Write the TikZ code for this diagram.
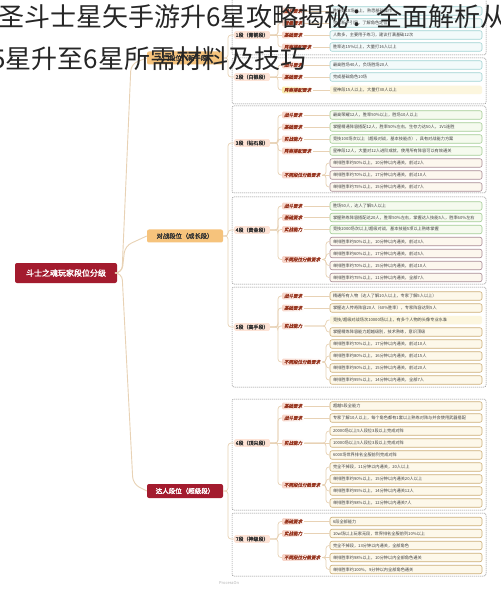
\documentclass[tikz,border=0pt]{standalone}
\usepackage{fontspec}
\setmainfont{Noto Sans CJK SC}
\newfontfamily\boldcjk[FakeBold=2]{Noto Sans CJK SC}
\newfontfamily\catcjk[FakeBold=1.2,FakeSlant=0.2]{Noto Sans CJK SC}
\usepackage{tikz}
\usetikzlibrary{calc}
\usetikzlibrary{positioning}
\definecolor{rootred}{RGB}{163,27,46}
\definecolor{duizhan}{RGB}{246,195,124}
\definecolor{linktan}{RGB}{232,210,181}
\definecolor{framegray}{RGB}{140,140,140}
\definecolor{labelpink}{RGB}{253,227,214}
\definecolor{catred}{RGB}{150,52,30}
\definecolor{catpink}{RGB}{247,212,200}
\definecolor{catyellow}{RGB}{250,236,170}
\definecolor{rowteal}{RGB}{160,211,211}
\definecolor{rowtealfill}{RGB}{243,250,250}
\definecolor{rowgreen}{RGB}{165,205,150}
\definecolor{rowgreenfill}{RGB}{245,250,238}
\definecolor{rowmauve}{RGB}{170,140,150}
\definecolor{rowcream}{RGB}{252,247,238}
\definecolor{rowtan}{RGB}{205,175,120}
\definecolor{rowtanfill}{RGB}{253,248,234}
\definecolor{yellowfill}{RGB}{252,246,222}

\begin{document}
\begin{tikzpicture}[x=1pt, y=-1pt,
	rootbox/.style={fill=rootred, text=white, font=\boldcjk\fontsize{8}{9}\selectfont, minimum width=102pt, minimum height=20pt, rounded corners=2pt, inner sep=0pt},
	orangebox/.style={fill=duizhan, text=black!80, font=\boldcjk\fontsize{6.3}{7}\selectfont, minimum width=76pt, minimum height=13pt, rounded corners=2pt, inner sep=0pt},
	redbox/.style={fill=rootred, text=white, font=\boldcjk\fontsize{6.5}{7}\selectfont, minimum width=76pt, minimum height=14pt, rounded corners=2pt, inner sep=0pt},
	grouplabel/.style={fill=labelpink, text=black!80, font=\boldcjk\fontsize{5}{6}\selectfont, rounded corners=1.5pt, inner xsep=1.5pt, inner ysep=1.5pt, anchor=west},
	catlabel/.style={left color=catpink, right color=white, text=catred, font=\catcjk\fontsize{4.5}{5}\selectfont, rounded corners=1pt, inner xsep=2pt, inner ysep=1.2pt, anchor=west},
	catbright/.style={left color=catyellow, right color=white, text=catred, font=\catcjk\fontsize{4.5}{5}\selectfont, rounded corners=1pt, inner xsep=2pt, inner ysep=1.2pt, anchor=west},
	rowbase/.style={line width=0.6pt, rounded corners=2pt, text width=146pt, align=left, inner xsep=3pt, inner ysep=0pt, minimum height=8.5pt, text=black!75, font=\fontsize{4.2}{5}\selectfont},
	tealrow/.style={rowbase, draw=rowteal, fill=rowtealfill},
	greenrow/.style={rowbase, draw=rowgreen, fill=rowgreenfill},
	mauverow/.style={rowbase, draw=rowmauve, fill=rowcream},
	tanrow/.style={rowbase, draw=rowtan, fill=rowtanfill},
	plainrow/.style={rowbase, fill=yellowfill},
	link/.style={draw=linktan, line width=0.7pt, rounded corners=3pt},
	trunk/.style={draw=linktan, line width=0.9pt, rounded corners=7pt},
	groupframe/.style={draw=framegray, dash pattern=on 1.2pt off 0.8pt, line width=0.5pt, rounded corners=2pt},
	titletext/.style={font=\fontsize{26}{30}\selectfont, text=black!85, inner sep=0pt, anchor=base west}]

	\useasboundingbox (0,0) rectangle (500,593);
	\fill[white] (0,0) rectangle (500,593);

	\pgfmathsetmacro{\rowx}{406}
	\pgfmathsetmacro{\catx}{282}
	\pgfmathsetmacro{\labx}{234}
	\pgfmathsetmacro{\fork}{326}
	\pgfmathsetmacro{\split}{278}

	\draw[groupframe] (232,-6) rectangle (486,55);
	\draw[groupframe] (232,58) rectangle (486,104);
	\draw[groupframe] (232,106) rectangle (486,193);
	\draw[groupframe] (232,197) rectangle (486,284);
	\draw[groupframe] (232,287) rectangle (486,387);
	\draw[groupframe] (232,399) rectangle (486,510);
	\draw[groupframe] (232,513) rectangle (486,576);

	\node[rootbox] (root) at (66,273) {斗士之魂玩家段位分级};
	\node[orangebox] (rumen) at (185,58) {入门段位（新手段）};
	\node[orangebox] (duizhan) at (185,236) {对战段位（成长段）};
	\node[redbox] (daren) at (185,491) {达人段位（超级段）};

	\node[grouplabel] (g1) at (\labx,35) {1段（青铜段）};
	\node[catlabel] (c1a) at (\catx,11) {战斗要求};
	\node[catlabel] (c1b) at (\catx,23) {晋级要求};
	\node[catlabel] (c1c) at (\catx,35) {基础要求};
	\node[catlabel] (c1d) at (\catx,47) {阵容搭配要求};
	\node[tealrow] (r1a) at (\rowx,11) {胜场数10场以上，熟悉基础操作};
	\node[tealrow] (r1b) at (\rowx,23) {完成新手引导，了解角色定位};
	\node[tealrow] (r1c) at (\rowx,35) {人数多，主要用于练习，建议打满基础12次};
	\node[tealrow] (r1d) at (\rowx,47) {胜率达15\%以上，大量打16人以上};

	\node[grouplabel] (g2) at (\labx,77) {2段（白银段）};
	\node[catlabel] (c2a) at (\catx,65) {战斗要求};
	\node[catlabel] (c2b) at (\catx,77) {基础要求};
	\node[catbright] (c2c) at (\catx,90) {阵容搭配要求};
	\node[tealrow] (r2a) at (\rowx,65) {最高胜场40人，负场胜场20人};
	\node[tealrow] (r2b) at (\rowx,77) {完成基础角色10场};
	\node[plainrow] (r2c) at (\rowx,90) {星神段15人以上，大量打30人以上};

	\node[grouplabel] (g3) at (\labx,143) {3段（钻石段）};
	\node[catlabel] (c3a) at (\catx,115) {战斗要求};
	\node[catlabel] (c3b) at (\catx,127) {基础要求};
	\node[catlabel] (c3c) at (\catx,139) {实战能力};
	\node[catlabel] (c3d) at (\catx,151) {阵容搭配要求};
	\node[catlabel] (c3e) at (\catx,175) {不同段位分数要求};
	\node[greenrow] (r3a) at (\rowx,115) {最高荣耀12人，胜率50\%以上，胜场10人以上};
	\node[greenrow] (r3b) at (\rowx,127) {掌握精通阵容搭配12人，胜率50\%左右，生存力达50人，1V1连胜};
	\node[greenrow] (r3c) at (\rowx,139) {竞技100场次以上（超级对战，基本技能点），具有对战能力方案};
	\node[greenrow] (r3d) at (\rowx,151) {星神段12人，大量对12人进阶成就，使用所有阵容可以有效通关};
	\node[mauverow] (r3e) at (\rowx,163) {单排胜率约50\%以上，10分钟以内通关，前过2人};
	\node[mauverow] (r3f) at (\rowx,175) {单排胜率约70\%以上，17分钟以内通关，前过10人};
	\node[mauverow] (r3g) at (\rowx,187) {单排胜率约75\%以上，15分钟以内通关，前过7人};

	\node[grouplabel] (g4) at (\labx,230) {4段（黄金段）};
	\node[catlabel] (c4a) at (\catx,206) {战斗要求};
	\node[catlabel] (c4b) at (\catx,217.5) {基础要求};
	\node[catlabel] (c4c) at (\catx,229.5) {实战能力};
	\node[catlabel] (c4d) at (\catx,259.5) {不同段位分数要求};
	\node[greenrow] (r4a) at (\rowx,206) {胜场50人，达人了解5人以上};
	\node[greenrow] (r4b) at (\rowx,217.5) {掌握熟练阵容搭配达20人，胜率50\%左右，掌握达人技能5人，胜率60\%左右};
	\node[greenrow] (r4c) at (\rowx,229.5) {竞技2000场次以上/超级对战，基本技能5项以上熟练掌握};
	\node[mauverow] (r4d) at (\rowx,241.5) {单排胜率约50\%以上，10分钟以内通关，前过3人};
	\node[mauverow] (r4e) at (\rowx,253.5) {单排胜率约60\%以上，17分钟以内通关，前过5人};
	\node[mauverow] (r4f) at (\rowx,265.5) {单排胜率约70\%以上，15分钟以内通关，前过10人};
	\node[mauverow] (r4g) at (\rowx,277.5) {单排胜率约75\%以上，11分钟以内通关，全部7人};

	\node[grouplabel] (g5) at (\labx,327) {5段（高手段）};
	\node[catlabel] (c5a) at (\catx,296) {战斗要求};
	\node[catlabel] (c5b) at (\catx,308) {基础要求};
	\node[catlabel] (c5c) at (\catx,326) {实战能力};
	\node[catlabel] (c5d) at (\catx,362) {不同段位分数要求};
	\node[tanrow] (r5a) at (\rowx,296) {精通所有人物（达人了解10人以上，专家了解5人以上）};
	\node[tanrow] (r5b) at (\rowx,308) {掌握达人传奇阵容20人（60\%胜率），专家阵容达到5人};
	\node[plainrow] (r5c) at (\rowx,320) {竞技/超级对战场次10000场以上，有多个人物的头像专业水准};
	\node[tanrow] (r5d) at (\rowx,332) {掌握精炼阵容能力超越级别，技术熟练，意识顶级};
	\node[tanrow] (r5e) at (\rowx,344) {单排胜率约70\%以上，17分钟以内通关，前过10人};
	\node[tanrow] (r5f) at (\rowx,356) {单排胜率约80\%以上，16分钟以内通关，前过15人};
	\node[tanrow] (r5g) at (\rowx,368) {单排胜率约90\%以上，15分钟以内通关，前过20人};
	\node[tanrow] (r5h) at (\rowx,380) {单排胜率约95\%以上，14分钟以内通关，全部7人};

	\node[grouplabel] (g6) at (\labx,443) {6段（顶尖段）};
	\node[catlabel] (c6a) at (\catx,406) {基础要求};
	\node[catlabel] (c6b) at (\catx,418) {战斗要求};
	\node[catlabel] (c6c) at (\catx,443) {实战能力};
	\node[catlabel] (c6d) at (\catx,485) {不同段位分数要求};
	\node[tanrow] (r6a) at (\rowx,406) {超越5段全能力};
	\node[tanrow] (r6b) at (\rowx,418) {专家了解10人以上，每个角色都有1套以上熟练对阵与并会使用武器搭配};
	\node[tanrow] (r6c) at (\rowx,431) {20000场以上5人段位3段以上完成对阵};
	\node[tanrow] (r6d) at (\rowx,443) {10000场以上5人段位3段以上完成对阵};
	\node[tanrow] (r6e) at (\rowx,455) {6000场世界排名全服前列完成对阵};
	\node[tanrow] (r6f) at (\rowx,467) {完全不掉段，11分钟以内通关，20人以上};
	\node[tanrow] (r6g) at (\rowx,479) {单排胜率约90\%以上，15分钟以内通关20人以上};
	\node[tanrow] (r6h) at (\rowx,491) {单排胜率约95\%以上，14分钟以内通关12人};
	\node[tanrow] (r6i) at (\rowx,503) {单排胜率约98\%以上，12分钟以内通关7人};

	\node[grouplabel] (g7) at (\labx,539) {7段（神级段）};
	\node[catlabel] (c7a) at (\catx,521.5) {基础要求};
	\node[catlabel] (c7b) at (\catx,533.5) {实战能力};
	\node[catlabel] (c7c) at (\catx,557.5) {不同段位分数要求};
	\node[tanrow] (r7a) at (\rowx,521.5) {6段全部能力};
	\node[tanrow] (r7b) at (\rowx,533.5) {10w场以上玩家无段，世界排名全服前列10\%以上};
	\node[tanrow] (r7c) at (\rowx,545.5) {完全不掉段，13分钟以内通关，全部角色};
	\node[tanrow] (r7d) at (\rowx,557.5) {单排胜率约98\%以上，10分钟以内全部角色通关};
	\node[tanrow] (r7e) at (\rowx,569.5) {单排胜率约100\%，9分钟以内全部角色通关};

	\node[font=\fontsize{4}{5}\selectfont, text=black!30, anchor=west, inner sep=0pt] (mark) at (219,583) {ProcessOn};

	\draw[trunk] (root.east) -- (122,273) -- (131,64) -- (rumen.west);
	\draw[trunk] (root.east) -- (122,273) -- (125,246) -- (duizhan.west);
	\draw[trunk] (root.east) -- (122,273) -- (133,484) -- (daren.west);

	\draw[link] (rumen.east) -- (228,58) |- (g1.west);
	\draw[link] (rumen.east) -- (228,58) |- (g2.west);
	\draw[link] (duizhan.east) -- (228,236) |- (g3.west);
	\draw[link] (duizhan.east) -- (228,236) |- (g4.west);
	\draw[link] (duizhan.east) -- (228,236) |- (g5.west);
	\draw[link] (daren.east) -- (228,491) |- (g6.west);
	\draw[link] (daren.east) -- (228,491) |- (g7.west);

	\draw[link] (g1.east) -- (\split,35) |- (c1a.west);
	\draw[link] (g1.east) -- (\split,35) |- (c1b.west);
	\draw[link] (g1.east) -- (c1c.west);
	\draw[link] (g1.east) -- (\split,35) |- (c1d.west);
	\draw[link] (c1a.east) -- (r1a.west);
	\draw[link] (c1b.east) -- (r1b.west);
	\draw[link] (c1c.east) -- (r1c.west);
	\draw[link] (c1d.east) -- (r1d.west);

	\draw[link] (g2.east) -- (\split,77) |- (c2a.west);
	\draw[link] (g2.east) -- (c2b.west);
	\draw[link] (g2.east) -- (\split,77) |- (c2c.west);
	\draw[link] (c2a.east) -- (r2a.west);
	\draw[link] (c2b.east) -- (r2b.west);
	\draw[link] (c2c.east) -- (r2c.west);

	\draw[link] (g3.east) -- (\split,143) |- (c3a.west);
	\draw[link] (g3.east) -- (\split,143) |- (c3b.west);
	\draw[link] (g3.east) -- (\split,143) |- (c3c.west);
	\draw[link] (g3.east) -- (\split,143) |- (c3d.west);
	\draw[link] (g3.east) -- (\split,143) |- (c3e.west);
	\draw[link] (c3a.east) -- (r3a.west);
	\draw[link] (c3b.east) -- (r3b.west);
	\draw[link] (c3c.east) -- (r3c.west);
	\draw[link] (c3d.east) -- (r3d.west);
	\draw[link] (c3e.east) -- (\fork,175) |- (r3e.west);
	\draw[link] (c3e.east) -- (r3f.west);
	\draw[link] (c3e.east) -- (\fork,175) |- (r3g.west);

	\draw[link] (g4.east) -- (\split,230) |- (c4a.west);
	\draw[link] (g4.east) -- (\split,230) |- (c4b.west);
	\draw[link] (g4.east) -- (\split,230) |- (c4c.west);
	\draw[link] (g4.east) -- (\split,230) |- (c4d.west);
	\draw[link] (c4a.east) -- (r4a.west);
	\draw[link] (c4b.east) -- (r4b.west);
	\draw[link] (c4c.east) -- (r4c.west);
	\draw[link] (c4d.east) -- (\fork,259.5) |- (r4d.west);
	\draw[link] (c4d.east) -- (\fork,259.5) |- (r4e.west);
	\draw[link] (c4d.east) -- (\fork,259.5) |- (r4f.west);
	\draw[link] (c4d.east) -- (\fork,259.5) |- (r4g.west);

	\draw[link] (g5.east) -- (\split,327) |- (c5a.west);
	\draw[link] (g5.east) -- (\split,327) |- (c5b.west);
	\draw[link] (g5.east) -- (\split,327) |- (c5c.west);
	\draw[link] (g5.east) -- (\split,327) |- (c5d.west);
	\draw[link] (c5a.east) -- (r5a.west);
	\draw[link] (c5b.east) -- (r5b.west);
	\draw[link] (c5c.east) -- (\fork,326) |- (r5c.west);
	\draw[link] (c5c.east) -- (\fork,326) |- (r5d.west);
	\draw[link] (c5d.east) -- (\fork,362) |- (r5e.west);
	\draw[link] (c5d.east) -- (\fork,362) |- (r5f.west);
	\draw[link] (c5d.east) -- (\fork,362) |- (r5g.west);
	\draw[link] (c5d.east) -- (\fork,362) |- (r5h.west);

	\draw[link] (g6.east) -- (\split,443) |- (c6a.west);
	\draw[link] (g6.east) -- (\split,443) |- (c6b.west);
	\draw[link] (g6.east) -- (c6c.west);
	\draw[link] (g6.east) -- (\split,443) |- (c6d.west);
	\draw[link] (c6a.east) -- (r6a.west);
	\draw[link] (c6b.east) -- (r6b.west);
	\draw[link] (c6c.east) -- (\fork,443) |- (r6c.west);
	\draw[link] (c6c.east) -- (r6d.west);
	\draw[link] (c6c.east) -- (\fork,443) |- (r6e.west);
	\draw[link] (c6d.east) -- (\fork,485) |- (r6f.west);
	\draw[link] (c6d.east) -- (\fork,485) |- (r6g.west);
	\draw[link] (c6d.east) -- (\fork,485) |- (r6h.west);
	\draw[link] (c6d.east) -- (\fork,485) |- (r6i.west);

	\draw[link] (g7.east) -- (\split,539) |- (c7a.west);
	\draw[link] (g7.east) -- (\split,539) |- (c7b.west);
	\draw[link] (g7.east) -- (\split,539) |- (c7c.west);
	\draw[link] (c7a.east) -- (r7a.west);
	\draw[link] (c7b.east) -- (r7b.west);
	\draw[link] (c7c.east) -- (\fork,557.5) |- (r7c.west);
	\draw[link] (c7c.east) -- (r7d.west);
	\draw[link] (c7c.east) -- (\fork,557.5) |- (r7e.west);

	\node[titletext] (title1) at (-2,27) {圣斗士星矢手游升6星攻略揭秘：全面解析从};
	\node[titletext] (title2) at (-9,69) {5星升至6星所需材料及技巧};
\end{tikzpicture}
\end{document}
